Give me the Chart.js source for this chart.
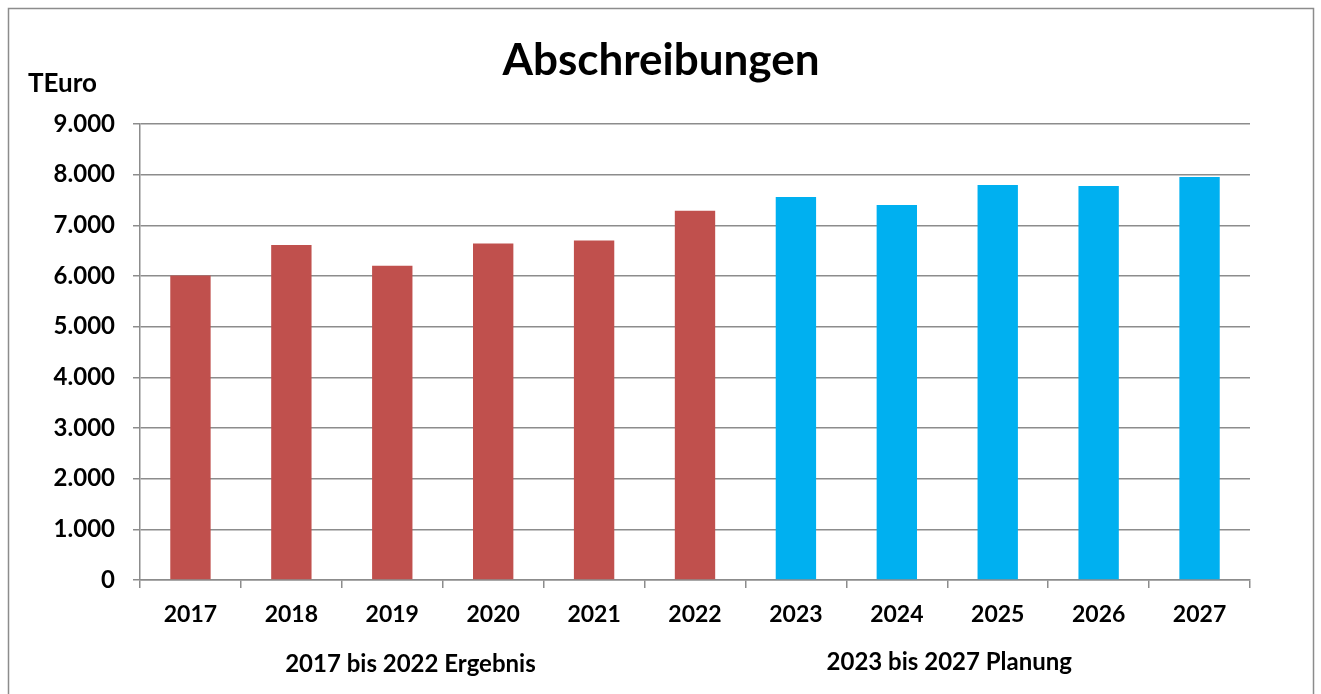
<!DOCTYPE html>
<html>
<head>
<meta charset="utf-8">
<script src="https://cdn.jsdelivr.net/npm/chart.js@4"></script>
<style>
    html, body { margin: 0; padding: 0; background: #fff; }
    #wrap { width: 1321px; height: 694px; position: relative; }
</style>
</head>
<body>
<div id="wrap"><canvas id="chart"></canvas></div>
<script>
// Datos
const years = ['2017', '2018', '2019', '2020', '2021', '2022', '2023', '2024', '2025', '2026', '2027'];
const abschreibungen = [6010, 6610, 6200, 6640, 6700, 7290, 7560, 7400, 7795, 7775, 7955];
const ergebnisJahre = ['2017', '2018', '2019', '2020', '2021', '2022'];
const yTicks = [0, 1000, 2000, 3000, 4000, 5000, 6000, 7000, 8000, 9000];

const titleText = 'Abschreibungen';
const unitText = 'TEuro';
const groupLeft = '2017 bis 2022 Ergebnis';
const groupRight = '2023 bis 2027 Planung';

const RED = '#C0504D';
const BLUE = '#00B0F0';
const GRID = '#8c8c8c';
const FONT = 'Lato, "Open Sans", sans-serif';

const barColors = years.map(y => ergebnisJahre.includes(y) ? RED : BLUE);

// Formato alemán con punto de miles
function formatDE(v) {
    return String(v).replace(/\B(?=(\d{3})+(?!\d))/g, '.');
}

// Marco, título y textos extra
const extrasPlugin = {
    id: 'extras',
    beforeDraw(chart) {
        const ctx = chart.ctx;
        ctx.save();
        ctx.fillStyle = '#fff';
        ctx.fillRect(0, 0, chart.width, chart.height);
        ctx.strokeStyle = '#8c8c8c';
        ctx.lineWidth = 1.5;
        ctx.strokeRect(8.5, 8.5, 1305, 720);
        ctx.restore();
    },
    afterDraw(chart) {
        const ctx = chart.ctx;
        const x = chart.scales.x;
        ctx.save();
        ctx.fillStyle = '#000';
        ctx.textBaseline = 'alphabetic';

        ctx.font = 'bold 44px ' + FONT;
        ctx.textAlign = 'center';
        ctx.fillText(titleText, 661, 75);

        ctx.font = 'bold 26px ' + FONT;
        ctx.textAlign = 'left';
        ctx.fillText(unitText, 28, 92);

        ctx.font = 'bold 24px ' + FONT;
        ctx.textAlign = 'center';
        ctx.fillText(groupLeft, x.getPixelForValue(2.18), 672);
        ctx.fillText(groupRight, x.getPixelForValue(7.52), 670);
        ctx.restore();
    }
};

const ctx = document.getElementById('chart').getContext('2d');
const chart = new Chart(ctx, {
    type: 'bar',
    data: {
        labels: years,
        datasets: [{
            label: unitText,
            data: abschreibungen,
            backgroundColor: barColors,
            borderWidth: 0,
            barPercentage: 0.4,
            categoryPercentage: 1.0
        }]
    },
    options: {
        responsive: true,
        maintainAspectRatio: false,
        animation: false,
        layout: {
            padding: { left: 8, right: 71, top: 124, bottom: 54 }
        },
        plugins: {
            legend: { display: false },
            title: { display: false },
            tooltip: { enabled: false }
        },
        scales: {
            x: {
                afterFit: (scale) => { scale.height = 60; },
                grid: {
                    offset: true,
                    drawOnChartArea: false,
                    drawTicks: true,
                    tickLength: 8,
                    color: GRID,
                    lineWidth: 1.5
                },
                border: { display: true, color: GRID, width: 1.5 },
                ticks: {
                    color: '#000',
                    padding: 13,
                    font: { family: FONT, size: 23, weight: 'bold' }
                }
            },
            y: {
                min: 0,
                max: 9000,
                afterFit: (scale) => { scale.width = 132; },
                afterBuildTicks: (scale) => { scale.ticks = yTicks.map(v => ({ value: v })); },
                grid: {
                    drawTicks: true,
                    tickLength: 7,
                    color: GRID,
                    lineWidth: 1.5
                },
                border: { display: true, color: GRID, width: 1.5 },
                ticks: {
                    color: '#000',
                    padding: 18,
                    font: { family: FONT, size: 24, weight: 'bold' },
                    callback: (v) => formatDE(v)
                }
            }
        }
    },
    plugins: [extrasPlugin]
});
</script>
</body>
</html>
